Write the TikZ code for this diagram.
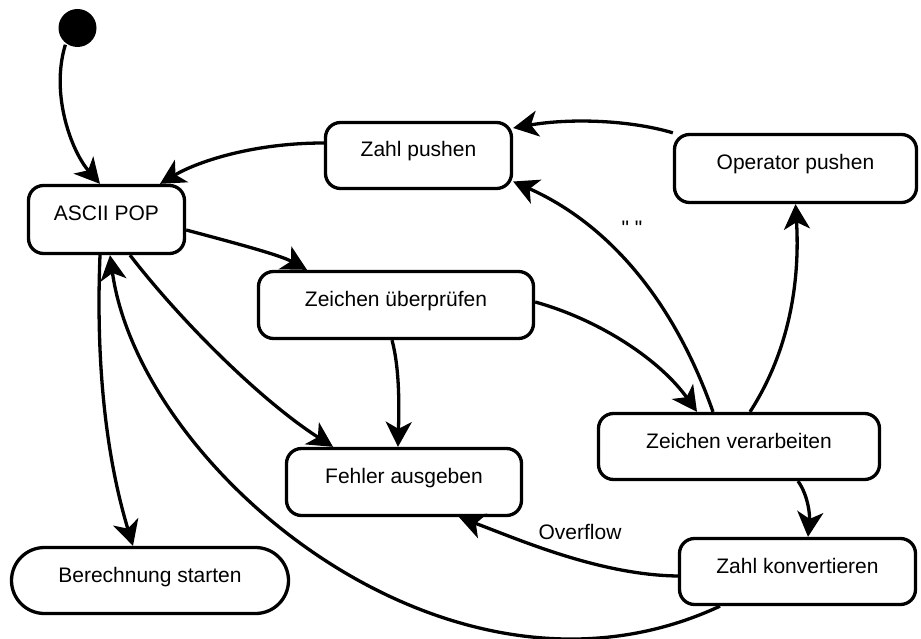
\documentclass[tikz,border=0pt]{standalone}
\usepackage{fontspec}
\setmainfont{Liberation Sans}
% same face without the TeX quote mapping, for straight quote marks
\newfontfamily\plainfont{Liberation Sans}
\usetikzlibrary{arrows.meta}
\begin{document}
\begin{tikzpicture}[x=1pt,y=-1pt,line width=3.3pt,
  statebox/.style={draw,rounded corners=15pt,align=center,
    font=\fontsize{21}{25}\selectfont,text height=9pt,text depth=6pt,inner sep=0pt},
  conn/.style={-{Stealth[length=25pt,width=26pt,inset=7pt]},line width=3.3pt},
  lbl/.style={font=\fontsize{21}{25}\selectfont,inner sep=0pt}]
\useasboundingbox (0,0) rectangle (921,639);

% initial state
\node[circle,fill=black,inner sep=0pt,minimum size=38pt] (s) at (77.5,28) {};

% states
\node[statebox,minimum width=156pt,minimum height=68pt] (asc) at (106.5,219.5) {ASCII POP};
\node[statebox,minimum width=186pt,minimum height=66pt] (zp)  at (418.5,155.5) {Zahl pushen};
\node[statebox,minimum width=242pt,minimum height=68pt] (op)  at (795.5,168.5) {Operator pushen};
\node[statebox,minimum width=275pt,minimum height=67pt] (zu)  at (396,305) {Zeichen überprüfen};
\node[statebox,minimum width=235pt,minimum height=67pt] (fa)  at (404,482) {Fehler ausgeben};
\node[statebox,rounded corners=33pt,minimum width=277pt,minimum height=66pt] (bs) at (150,580.5) {Berechnung starten};
\node[statebox,minimum width=281pt,minimum height=66pt] (zv)  at (739,446.5) {Zeichen verarbeiten};
\node[statebox,minimum width=236pt,minimum height=66pt] (zk)  at (797.5,571.5) {Zahl konvertieren};

% transition labels
\node[lbl] (lq) at (632,228) {\plainfont " "};
\node[lbl] (lo) at (580,532) {Overflow};

% transitions
\draw[conn] (s.-126) .. controls (50,95) and (72,152) .. ([xshift=-6.5pt]asc.north);
\draw[conn] ([yshift=12.5pt]zp.west) .. controls (250,143) and (195,163) .. ([xshift=53.5pt]asc.north);
\draw[conn] (op.north west) .. controls (630,120) and (570,118) .. ([yshift=27.5pt]zp.east);
\draw[conn] ([xshift=-26pt]zv.north) .. controls (670,290) and (600,220) .. ([yshift=-26pt]zp.east);
\draw[conn] ([xshift=11pt]zv.north) .. controls (790,350) and (800,280) .. (op.south);
\draw[conn] ([yshift=-10.5pt]asc.east) .. controls (235,243) and (280,255) .. ([xshift=-89pt]zu.north);
\draw[conn] ([yshift=3pt]zu.east) .. controls (600,320) and (660,360) .. ([xshift=-42pt]zv.north);
\draw[conn] ([xshift=-4pt]zu.south) .. controls (400,370) and (399,410) .. ([xshift=-6pt]fa.north);
\draw[conn] ([xshift=23.5pt]asc.south) .. controls (180,320) and (260,400) .. ([xshift=-71pt]fa.north);
\draw[conn] ([xshift=-6.5pt]asc.south) .. controls (95,380) and (110,470) .. ([xshift=-17pt]bs.north);
\draw[conn] ([xshift=-77.5pt]zk.south) .. controls (450,732) and (140,470) .. ([xshift=3.5pt]asc.south);
\draw[conn] ([xshift=59pt]zv.south) .. controls (808,495) and (810,515) .. ([xshift=10.5pt]zk.north);
\draw[conn] ([yshift=-4.5pt]zk.west) .. controls (600,575) and (520,540) .. ([xshift=55pt]fa.south);
\end{tikzpicture}
\end{document}
